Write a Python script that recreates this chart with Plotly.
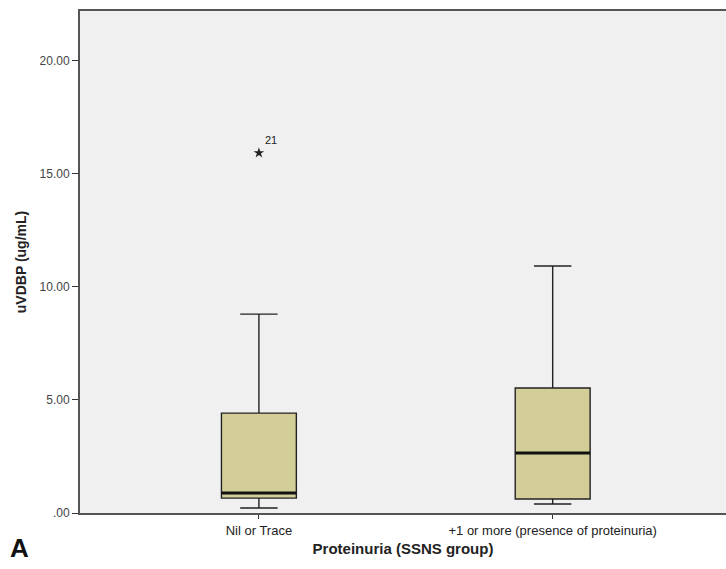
import plotly.graph_objects as go

categories = ["Nil or Trace", "+1 or more (presence of proteinuria)"]
lower_whisker = [0.22, 0.40]
q1 = [0.66, 0.62]
median = [0.88, 2.65]
q3 = [4.42, 5.53]
upper_whisker = [8.80, 10.93]
outlier_values = [15.93]
outlier_group = [0]
outlier_labels = ["21"]
y_ticks = [0, 5, 10, 15, 20]
y_tick_labels = [".00", "5.00", "10.00", "15.00", "20.00"]

BOX_W = 0.255
FILL = "#D3CE98"
xs = list(range(len(categories)))

fig = go.Figure()
fig.add_trace(go.Box(
    x=xs, q1=q1, median=median, q3=q3,
    lowerfence=lower_whisker, upperfence=upper_whisker,
    width=BOX_W, whiskerwidth=0.5,
    fillcolor=FILL, line=dict(color="#222222", width=1.4),
    boxpoints=False, showlegend=False, hoverinfo="skip",
))
# thick median lines
for i, m in zip(xs, median):
    fig.add_trace(go.Scatter(
        x=[i - BOX_W / 2, i + BOX_W / 2], y=[m, m], mode="lines",
        line=dict(color="#111111", width=3), showlegend=False, hoverinfo="skip",
    ))
# outliers
fig.add_trace(go.Scatter(
    x=[xs[g] for g in outlier_group], y=outlier_values, mode="markers+text",
    marker=dict(symbol="star", size=8, color="#222222"),
    text=outlier_labels, textposition="top right",
    textfont=dict(family="Liberation Sans, Arial, sans-serif", size=11, color="#222222"),
    showlegend=False, hoverinfo="skip",
))

fig.update_layout(
    width=726, height=569,
    margin=dict(l=80, r=0, t=11, b=56),
    paper_bgcolor="white", plot_bgcolor="#F0F0F0",
    font=dict(family="Liberation Sans, Arial, sans-serif", color="#222222"),
    xaxis=dict(
        range=[-0.609, 1.59], tickmode="array", tickvals=xs, ticktext=categories,
        showgrid=False, zeroline=False, showline=True, linecolor="#555555", linewidth=2,
        mirror=True, ticks="outside", ticklen=4, tickcolor="#333333",
        tickfont=dict(size=13, color="#222222"),
        title=dict(text="<b>Proteinuria (SSNS group)</b>", font=dict(size=15, color="#222222"), standoff=7),
    ),
    yaxis=dict(
        range=[0, 22.21], tickmode="array", tickvals=y_ticks, ticktext=y_tick_labels,
        showgrid=False, zeroline=False, showline=True, linecolor="#555555", linewidth=2,
        ticks="outside", ticklen=6, tickcolor="#333333",
        tickfont=dict(size=12, color="#444444"),
        title=dict(text="<b>uVDBP (ug/mL)</b>", font=dict(size=14, color="#222222"), standoff=10),
    ),
    annotations=[dict(
        text="<b>A</b>", xref="paper", yref="paper", x=-0.093, y=-0.07,
        xanchor="center", yanchor="middle", showarrow=False,
        font=dict(size=26, color="#111111", family="Liberation Sans, Arial, sans-serif"),
    )],
)

fig.write_html(
    "out.html",
    config={"displayModeBar": False},
    post_script="document.body.style.margin='0';document.body.style.overflow='hidden';",
)
